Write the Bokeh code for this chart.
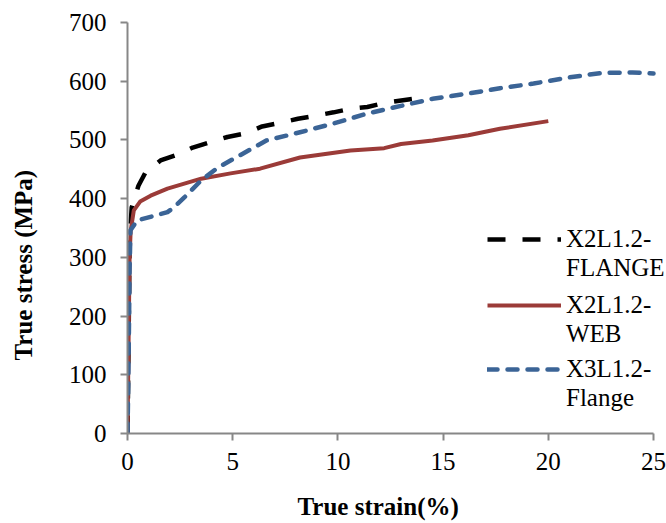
from bokeh.plotting import figure
from bokeh.models import Legend, LegendItem, Title, FixedTicker, LinearAxis
from bokeh.embed import file_html
from bokeh.resources import INLINE

flange2_strain = [0, 0.05, 0.1, 0.2, 0.52, 0.86, 1.57, 2.38, 3.1, 3.9, 4.75, 5.6, 6.4, 7.1, 8.1, 8.9, 9.8, 10.6, 11.4, 12.2, 13.8]
flange2_stress = [0, 150, 330, 385, 422, 445, 465, 475, 487, 496, 505, 511, 523, 528, 536, 541, 547, 553, 556, 563, 571]

web_strain = [0, 0.05, 0.1, 0.15, 0.3, 0.6, 1.1, 1.9, 3.5, 4.9, 6.3, 8.2, 10.6, 12.2, 13.0, 14.5, 16.2, 17.7, 20.0]
web_stress = [0, 150, 300, 345, 380, 395, 405, 417, 434, 443, 451, 470, 482, 486, 493, 499, 508, 519, 532]

flange3_strain = [0, 0.05, 0.1, 0.14, 0.46, 1.2, 1.9, 2.2, 2.7, 3.5, 4.3, 5.5, 6.6, 8.2, 9.8, 11.4, 13.0, 14.5, 16.2, 17.7, 19.3, 20.9, 22.5, 24.0, 25.0]
flange3_stress = [0, 120, 280, 346, 363, 370, 377, 385, 402, 431, 453, 477, 499, 513, 528, 545, 558, 570, 579, 588, 596, 606, 614, 615, 613]

label_lines = [["X2L1.2-", "FLANGE"], ["X2L1.2-", "WEB"], ["X3L1.2-", "Flange"]]
x_ticks = [0, 5, 10, 15, 20, 25]
y_ticks = [0, 100, 200, 300, 400, 500, 600, 700]

FONT = "Liberation Serif"
FS = "25px"

# frame runs to the right edge of the page so the legend text is not clipped;
# the x axis itself stops at 25
p = figure(width=666, height=523, output_backend="svg", toolbar_location=None,
           x_range=(0, 25 * 539 / 526), y_range=(0, 700),
           min_border_left=127, min_border_right=0, min_border_top=22, min_border_bottom=90)
p.outline_line_color = None
p.xgrid.visible = False
p.ygrid.visible = False

for ax, ticks in ((p.xaxis[0], x_ticks), (p.yaxis[0], y_ticks)):
    ax.ticker = FixedTicker(ticks=ticks)
    ax.axis_line_color = "#878787"
    ax.axis_line_width = 2
    ax.major_tick_line_color = "#878787"
    ax.major_tick_line_width = 2
    ax.major_tick_in = 0
    ax.major_tick_out = 7
    ax.minor_tick_line_color = None
    ax.major_label_text_font = FONT
    ax.major_label_text_font_size = FS
    ax.major_label_text_color = "#000000"
p.xaxis.bounds = (0, 25)
p.xaxis.major_label_standoff = 12
p.yaxis.major_label_standoff = 14

# invisible spacer axes that push the axis titles outward
for side, gap in (("below", 18), ("left", 29)):
    sp = LinearAxis(ticker=FixedTicker(ticks=[0]), axis_line_color=None,
                    major_tick_line_color=None, minor_tick_line_color=None,
                    major_tick_in=0, major_tick_out=gap, minor_tick_out=0,
                    major_label_standoff=0, major_label_overrides={0: ""},
                    major_label_text_font_size="1px")
    p.add_layout(sp, side)

r_black = p.line(flange2_strain, flange2_stress, line_color="#000000", line_width=4.5,
                 line_dash="18 17", line_join="round")
r_red = p.line(web_strain, web_stress, line_color="#9b3b38", line_width=4, line_join="round")
r_blue = p.line(flange3_strain, flange3_stress, line_color="#3b6496", line_width=4.5,
                line_dash="10 10", line_cap="round", line_join="round")
r_blank = p.line([], [], line_alpha=0)

legend_y = [151, 85, 21]
for rend, lines, ly in zip((r_black, r_red, r_blue), label_lines, legend_y):
    leg = Legend(items=[LegendItem(label=lines[0], renderers=[rend]),
                        LegendItem(label=lines[1], renderers=[r_blank])],
                 location=(360, ly), padding=0, margin=0, spacing=0,
                 glyph_width=74, glyph_height=20, label_standoff=5, label_height=29,
                 label_text_font=FONT, label_text_font_size=FS, label_text_color="#000000",
                 border_line_color=None, background_fill_alpha=0)
    p.add_layout(leg, "center")

p.add_layout(Title(text="True strain(%)", align="left", offset=170, standoff=0,
                   text_font=FONT, text_font_size=FS, text_font_style="bold",
                   text_color="#000000"), "below")
p.add_layout(Title(text="True stress (MPa)", align="left", offset=73, standoff=0,
                   text_font=FONT, text_font_size=FS, text_font_style="bold",
                   text_color="#000000"), "left")

open("out.html", "w").write(file_html(p, INLINE))
